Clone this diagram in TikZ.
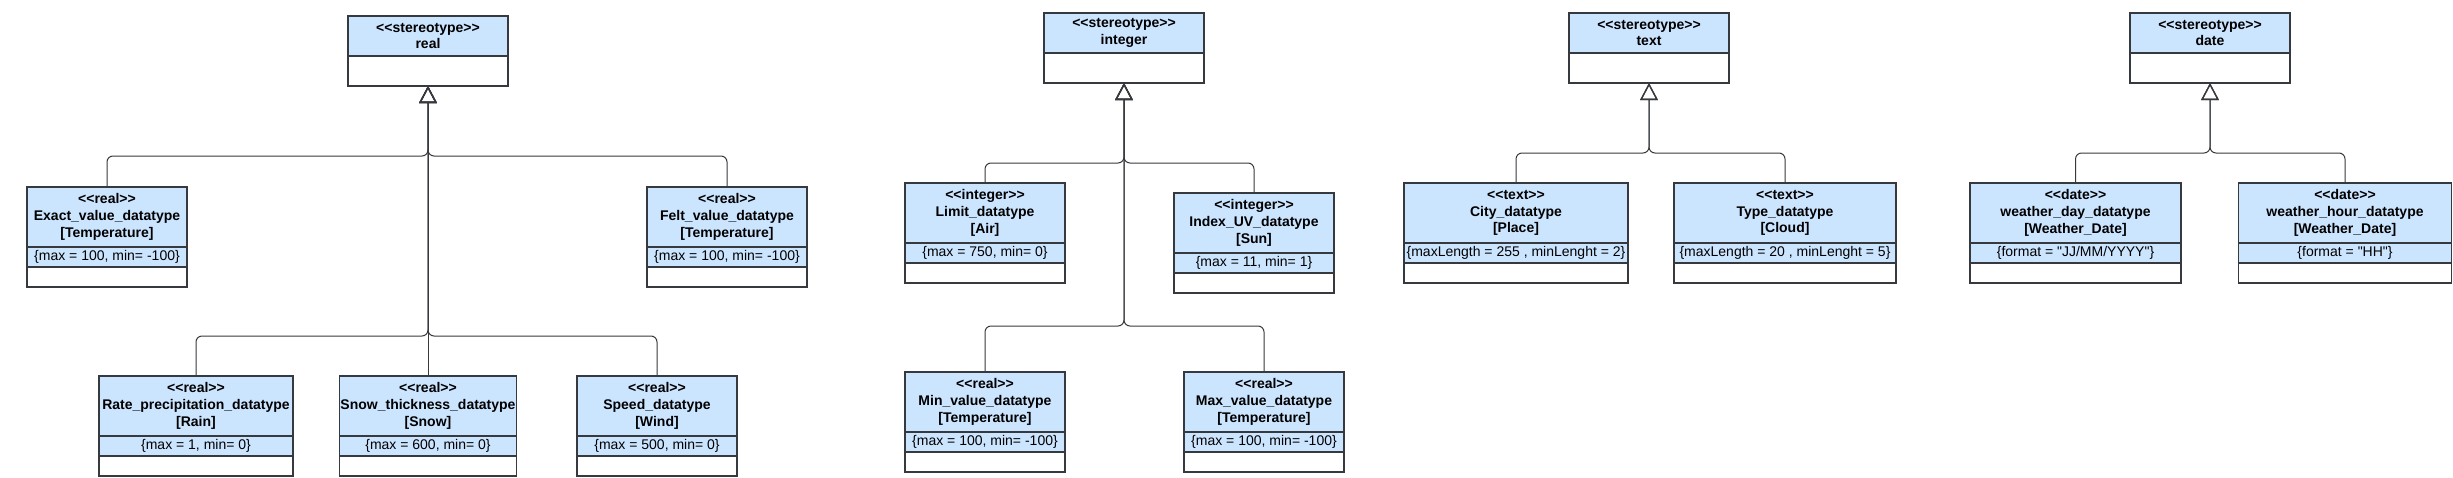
\documentclass[tikz,border=0pt]{standalone}
\usepackage{fontspec}
\newfontfamily\umlfont{Liberation Sans}
\usepackage{xcolor}
\usepackage{tikz}
\usetikzlibrary{positioning}
\usetikzlibrary{arrows.meta}

\definecolor{umlblue}{HTML}{CCE5FF}
\definecolor{umlline}{HTML}{36393D}

\tikzset{
  umlbox/.style={draw=umlline, fill=umlblue, line width=0.65pt, inner sep=0pt, outer sep=0pt,
    align=center, minimum width=80pt, font=\umlfont\fontsize{7}{8.4}\selectfont},
  hdr/.style={umlbox, minimum height=30pt, font=\umlfont\bfseries\fontsize{7}{8.4}\selectfont,
    execute at begin node={\rule{0pt}{9.5pt}}},
  sthdr/.style={hdr, minimum height=20pt},
  attr/.style={umlbox, minimum height=10pt},
  body/.style={umlbox, fill=white, minimum height=10pt},
  stbody/.style={body, minimum height=15pt},
  genline/.style={draw=umlline, line width=0.5pt, rounded corners=3pt,
    -{Triangle[open, length=8.5pt, width=8.8pt, line width=0.65pt]}}
}

\begin{document}
\begin{tikzpicture}[x=0.5pt, y=-0.5pt]
\useasboundingbox (0,0) rectangle (2453,477);

% real
\node[sthdr] (real) at (428,36) {<<stereotype>>\\real};
\node[stbody, below=0pt of real] (realbody) {};

\node[hdr] (exact) at (107,217) {<<real>>\\Exact\_value\_datatype\\{[Temperature]}};
\node[attr, below=0pt of exact] (exactattr) {\{max = 100, min= -100\}};
\node[body, below=0pt of exactattr] (exactbody) {};

\node[hdr] (felt) at (727,217) {<<real>>\\Felt\_value\_datatype\\{[Temperature]}};
\node[attr, below=0pt of felt] (feltattr) {\{max = 100, min= -100\}};
\node[body, below=0pt of feltattr] (feltbody) {};

\node[hdr, minimum width=97pt] (rate) at (196,406) {<<real>>\\Rate\_precipitation\_datatype\\{[Rain]}};
\node[attr, minimum width=97pt, below=0pt of rate] (rateattr) {\{max = 1, min= 0\}};
\node[body, minimum width=97pt, below=0pt of rateattr] (ratebody) {};

\node[hdr, minimum width=88.5pt] (snow) at (428,406) {<<real>>\\Snow\_thickness\_datatype\\{[Snow]}};
\node[attr, minimum width=88.5pt, below=0pt of snow] (snowattr) {\{max = 600, min= 0\}};
\node[body, minimum width=88.5pt, below=0pt of snowattr] (snowbody) {};

\node[hdr] (speed) at (657,406) {<<real>>\\Speed\_datatype\\{[Wind]}};
\node[attr, below=0pt of speed] (speedattr) {\{max = 500, min= 0\}};
\node[body, below=0pt of speedattr] (speedbody) {};

\coordinate (jr1) at (428,156);
\coordinate (jr2) at (428,336);
\foreach \c/\j in {exact/jr1, felt/jr1, rate/jr2, speed/jr2}
  \draw[genline] (\c.north) |- (\j) -- (realbody.south);
\draw[genline] (snow.north) -- (realbody.south);

% integer
\node[sthdr] (int) at (1124,33) {<<stereotype>>\\integer};
\node[stbody, below=0pt of int] (intbody) {};

\node[hdr] (limit) at (985,213) {<<integer>>\\Limit\_datatype\\{[Air]}};
\node[attr, below=0pt of limit] (limitattr) {\{max = 750, min= 0\}};
\node[body, below=0pt of limitattr] (limitbody) {};

\node[hdr] (index) at (1254,223) {<<integer>>\\Index\_UV\_datatype\\{[Sun]}};
\node[attr, below=0pt of index] (indexattr) {\{max = 11, min= 1\}};
\node[body, below=0pt of indexattr] (indexbody) {};

\node[hdr] (minval) at (985,402) {<<real>>\\Min\_value\_datatype\\{[Temperature]}};
\node[attr, below=0pt of minval] (minvalattr) {\{max = 100, min= -100\}};
\node[body, below=0pt of minvalattr] (minvalbody) {};

\node[hdr] (maxval) at (1264,402) {<<real>>\\Max\_value\_datatype\\{[Temperature]}};
\node[attr, below=0pt of maxval] (maxvalattr) {\{max = 100, min= -100\}};
\node[body, below=0pt of maxvalattr] (maxvalbody) {};

\coordinate (ji1) at (1124,163);
\coordinate (ji2) at (1124,326);
\foreach \c/\j in {limit/ji1, index/ji1, minval/ji2, maxval/ji2}
  \draw[genline] (\c.north) |- (\j) -- (intbody.south);

% text
\node[sthdr] (txt) at (1649,33) {<<stereotype>>\\text};
\node[stbody, below=0pt of txt] (txtbody) {};

\node[hdr, minimum width=112pt] (city) at (1516,213) {<<text>>\\City\_datatype\\{[Place]}};
\node[attr, minimum width=112pt, below=0pt of city] (cityattr) {\{maxLength = 255 , minLenght = 2\}};
\node[body, minimum width=112pt, below=0pt of cityattr] (citybody) {};

\node[hdr, minimum width=111pt] (type) at (1785,213) {<<text>>\\Type\_datatype\\{[Cloud]}};
\node[attr, minimum width=111pt, below=0pt of type] (typeattr) {\{maxLength = 20 , minLenght = 5\}};
\node[body, minimum width=111pt, below=0pt of typeattr] (typebody) {};

\coordinate (jt) at (1649,153);
\foreach \c in {city, type}
  \draw[genline] (\c.north) |- (jt) -- (txtbody.south);

% date
\node[sthdr] (date) at (2210,33) {<<stereotype>>\\date};
\node[stbody, below=0pt of date] (datebody) {};

\node[hdr, minimum width=105.5pt] (wday) at (2075.5,213) {<<date>>\\weather\_day\_datatype\\{[Weather\_Date]}};
\node[attr, minimum width=105.5pt, below=0pt of wday] (wdayattr) {\{format = "JJ/MM/YYYY"\}};
\node[body, minimum width=105.5pt, below=0pt of wdayattr] (wdaybody) {};

\node[hdr, minimum width=106.5pt] (whour) at (2345,213) {<<date>>\\weather\_hour\_datatype\\{[Weather\_Date]}};
\node[attr, minimum width=106.5pt, below=0pt of whour] (whourattr) {\{format = "HH"\}};
\node[body, minimum width=106.5pt, below=0pt of whourattr] (whourbody) {};

\coordinate (jd) at (2210,153);
\foreach \c in {wday, whour}
  \draw[genline] (\c.north) |- (jd) -- (datebody.south);

\end{tikzpicture}
\end{document}
